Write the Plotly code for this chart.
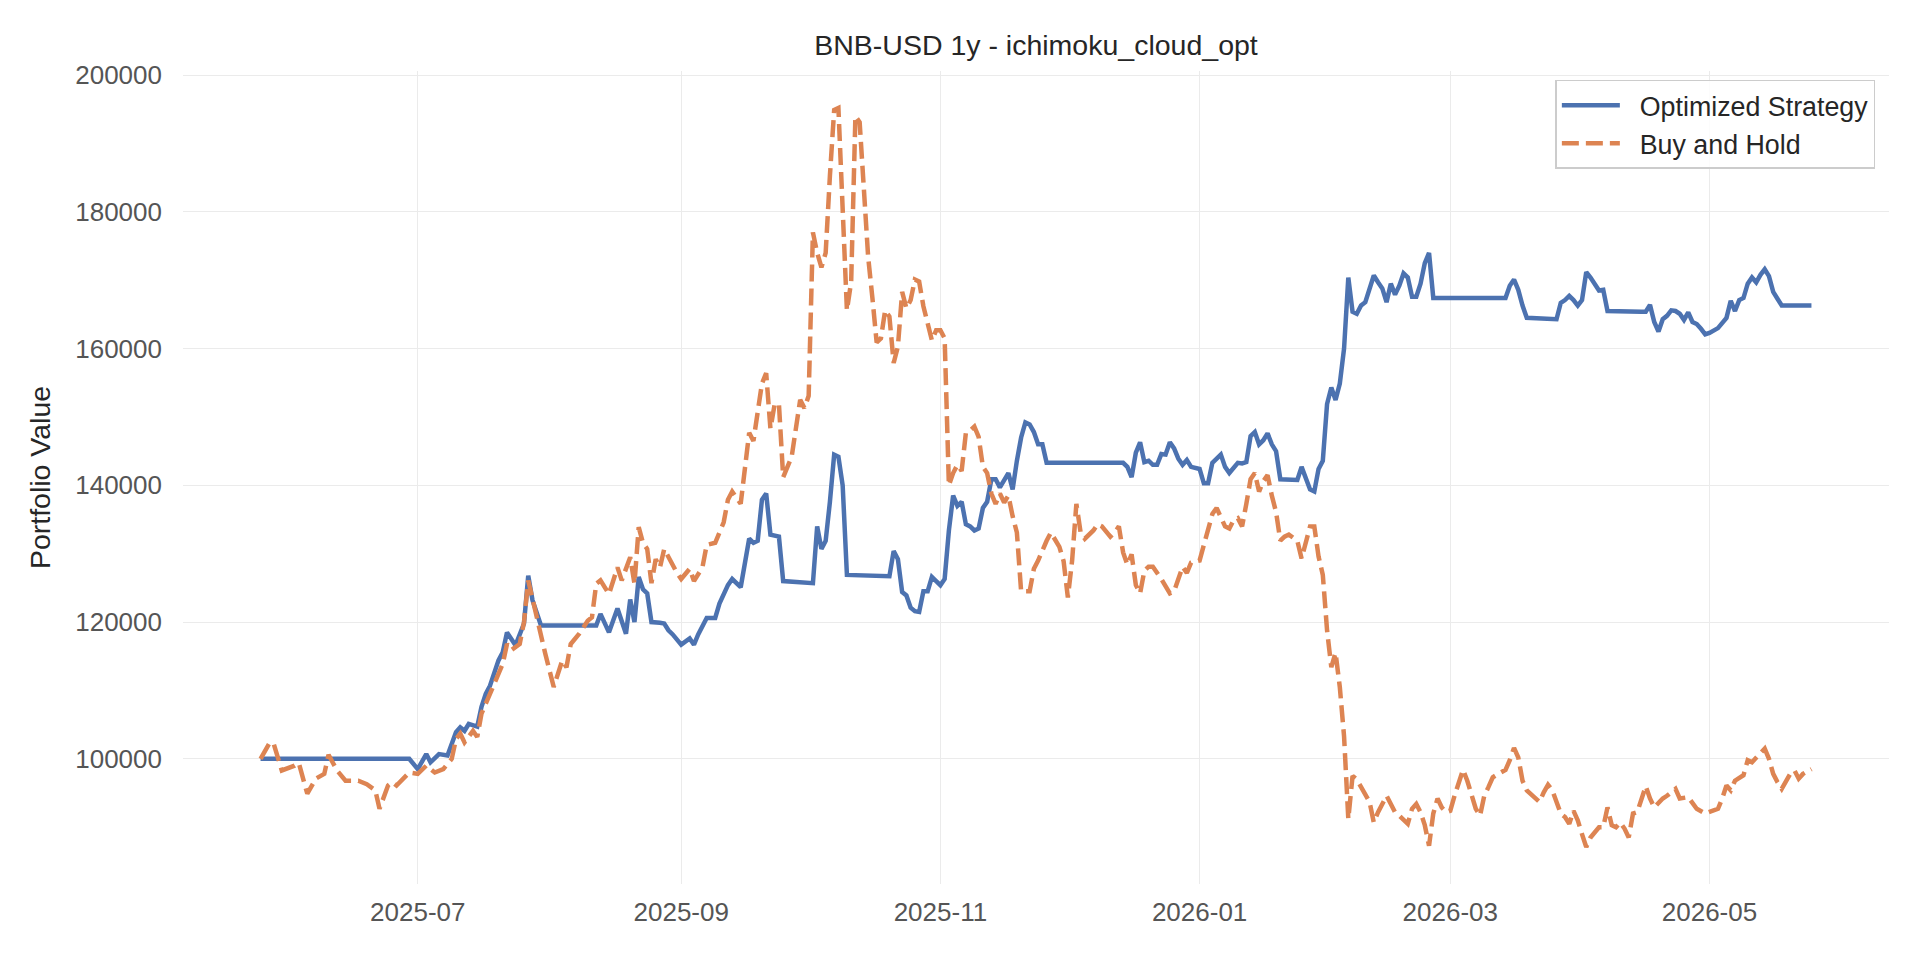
import numpy as np
import pandas as pd
import plotly.graph_objects as go

# backtest window: BNB-USD, 1 year of daily bars
start_date = "2025-05-25"

# Optimized strategy: (day since start, portfolio value in thousands)
strategy_day = [0, 35, 37, 39, 40, 42, 44, 46, 47, 48, 49, 51, 52, 53, 54, 56, 57, 58, 60, 61,
                62, 63, 64, 66, 79, 80, 82, 84, 86, 87, 88, 89, 90, 91, 92, 94, 95, 96, 97, 99,
                101, 102, 103, 105, 107, 108, 110, 111, 113, 115, 116, 117, 118, 119, 120, 122, 123, 130, 131, 132,
                133, 134, 135, 136, 137, 138, 148, 149, 150, 151, 152, 153, 154, 155, 156, 157, 158, 159, 160, 161,
                162, 163, 164, 165, 166, 167, 168, 169, 170, 171, 172, 173, 174, 176, 177, 178, 179, 180, 181, 182,
                183, 184, 185, 203, 204, 205, 206, 207, 208, 209, 210, 211, 212, 213, 214, 215, 216, 217, 218, 219,
                220, 221, 222, 223, 224, 226, 227, 228, 230, 231, 232, 233, 234, 235, 236, 237, 238, 239, 240, 244,
                245, 246, 247, 248, 249, 250, 251, 252, 253, 254, 255, 256, 257, 258, 259, 260, 261, 262, 263, 264,
                265, 266, 267, 268, 269, 270, 271, 272, 273, 274, 275, 276, 293, 294, 295, 296, 297, 298, 305, 306,
                307, 308, 309, 310, 311, 312, 313, 314, 315, 316, 317, 325, 326, 327, 328, 329, 330, 331, 332, 333,
                334, 335, 336, 337, 338, 339, 340, 341, 342, 343, 345, 346, 347, 348, 349, 350, 351, 352, 353, 354,
                355, 356, 357, 358, 365]
strategy_k = [100.0, 100.0, 98.5, 100.7, 99.5, 100.7, 100.5, 103.9, 104.6, 104.1, 105.1, 104.7, 107.6, 109.5, 110.7, 114.4, 115.6, 118.5, 116.6, 118.3,
              119.8, 126.8, 123.2, 119.5, 119.5, 121.2, 118.5, 122.0, 118.3, 123.3, 120.0, 126.6, 124.8, 124.2, 120.0, 119.9, 119.8, 118.8, 118.2, 116.7,
              117.6, 116.7, 118.2, 120.6, 120.6, 122.7, 125.4, 126.3, 125.1, 132.2, 131.6, 131.9, 137.9, 138.8, 132.8, 132.5, 126.0, 125.7, 134.0, 130.7,
              131.9, 137.6, 144.5, 144.2, 140.0, 126.9, 126.7, 130.4, 129.2, 124.4, 123.9, 122.1, 121.6, 121.5, 124.5, 124.5, 126.6, 126.0, 125.4, 126.3,
              133.4, 138.5, 137.0, 137.6, 134.3, 134.0, 133.4, 133.7, 136.7, 137.6, 140.9, 140.9, 139.7, 141.8, 139.4, 143.6, 147.0, 149.2, 148.9, 147.8,
              146.0, 146.0, 143.3, 143.3, 142.7, 141.2, 144.8, 146.3, 143.4, 143.6, 143.0, 143.0, 144.6, 144.5, 146.3, 145.4, 143.9, 143.0, 143.7, 142.7,
              142.5, 142.4, 140.3, 140.3, 143.3, 144.5, 142.7, 141.8, 143.3, 143.2, 143.4, 147.2, 147.8, 146.0, 146.6, 147.6, 146.0, 145.0, 140.9, 140.8,
              142.7, 141.2, 139.4, 139.1, 142.4, 143.6, 151.9, 154.3, 152.5, 154.9, 160.0, 170.4, 165.4, 165.1, 166.3, 166.8, 168.9, 170.7, 169.7, 168.8,
              166.8, 169.5, 167.9, 169.2, 171.0, 170.4, 167.6, 167.6, 169.5, 172.5, 174.0, 167.4, 167.4, 169.2, 170.1, 168.6, 166.3, 164.5, 164.3, 166.7,
              167.1, 167.7, 167.1, 166.3, 167.1, 171.2, 170.4, 169.5, 168.5, 168.6, 165.5, 165.4, 165.4, 166.4, 163.9, 162.5, 164.3, 164.8, 165.6, 165.5,
              165.1, 164.2, 165.3, 163.9, 163.6, 162.9, 162.1, 162.3, 162.7, 163.0, 164.5, 167.0, 165.5, 167.1, 167.4, 169.5, 170.4, 169.7, 170.8, 171.6,
              170.6, 168.3, 167.3, 166.3, 166.3]

# Buy and hold: (day since start, portfolio value in thousands)
hold_day = [0, 2, 3, 5, 8, 9, 11, 13, 15, 16, 18, 20, 23, 25, 27, 28, 30, 31, 32, 35,
            37, 39, 41, 43, 45, 46, 47, 48, 50, 51, 52, 54, 55, 57, 58, 59, 61, 62, 63, 65,
            67, 69, 71, 72, 73, 75, 77, 78, 79, 80, 82, 84, 85, 87, 88, 89, 90, 91, 92, 93,
            94, 95, 96, 98, 99, 101, 102, 104, 105, 107, 109, 110, 111, 113, 115, 116, 118, 119, 120, 121,
            122, 123, 125, 127, 128, 129, 130, 131, 132, 133, 134, 135, 136, 137, 138, 139, 140, 141, 142, 143,
            144, 145, 146, 147, 148, 149, 150, 151, 152, 153, 154, 155, 156, 157, 158, 159, 160, 161, 162, 163,
            164, 165, 166, 167, 168, 169, 170, 171, 172, 173, 174, 175, 176, 177, 178, 179, 181, 182, 183, 185,
            186, 188, 189, 190, 191, 192, 193, 194, 196, 197, 198, 200, 201, 202, 203, 204, 205, 206, 207, 208,
            209, 210, 212, 214, 215, 216, 217, 218, 219, 221, 222, 223, 224, 225, 226, 227, 228, 229, 230, 231,
            232, 233, 234, 235, 236, 237, 238, 239, 240, 241, 242, 244, 245, 246, 247, 248, 249, 250, 251, 252,
            253, 254, 255, 256, 257, 258, 259, 261, 262, 263, 265, 266, 267, 268, 270, 271, 272, 273, 274, 275,
            276, 277, 278, 279, 280, 281, 282, 283, 284, 285, 286, 287, 288, 289, 290, 291, 292, 293, 294, 295,
            296, 297, 298, 300, 301, 302, 303, 304, 306, 307, 308, 309, 310, 311, 312, 313, 315, 316, 317, 318,
            319, 320, 321, 322, 323, 324, 325, 326, 327, 328, 330, 331, 333, 334, 336, 337, 338, 340, 341, 343,
            344, 345, 346, 347, 349, 350, 351, 353, 354, 355, 356, 357, 358, 360, 361, 362, 363, 365]
hold_k = [100.0, 102.2, 102.4, 98.3, 99.0, 99.4, 94.9, 97.1, 97.8, 100.6, 98.3, 96.8, 96.8, 96.3, 95.4, 92.7, 96.1, 96.6, 96.1, 98.0,
          97.8, 99.0, 98.0, 98.5, 100.0, 102.9, 103.7, 102.4, 104.1, 103.2, 106.6, 109.5, 111.0, 113.9, 116.8, 115.9, 116.8, 120.0, 126.1, 120.6,
          115.4, 110.5, 114.4, 113.4, 116.8, 118.3, 120.2, 120.7, 125.6, 126.1, 124.1, 128.0, 126.1, 129.5, 125.6, 133.9, 131.6, 130.7, 125.7, 129.2,
          128.0, 130.7, 129.5, 127.2, 126.3, 127.8, 126.0, 128.0, 131.3, 131.6, 134.6, 137.9, 139.1, 137.3, 147.7, 146.5, 154.9, 156.4, 148.3, 151.9,
          151.9, 141.2, 144.2, 152.5, 151.3, 153.1, 177.0, 174.0, 171.9, 174.0, 185.3, 194.9, 195.2, 179.4, 165.6, 169.8, 194.0, 193.1, 184.1, 173.4,
          167.4, 160.9, 161.5, 165.6, 164.7, 157.9, 160.3, 168.3, 165.9, 167.1, 170.1, 169.8, 166.2, 163.9, 161.2, 162.7, 162.7, 161.5, 140.0, 141.8,
          143.0, 142.1, 147.7, 148.0, 148.6, 147.1, 142.7, 141.8, 138.8, 137.3, 138.8, 137.5, 138.5, 135.5, 133.1, 124.5, 124.5, 127.8, 129.0, 131.9,
          133.1, 131.0, 128.9, 123.6, 129.0, 137.3, 133.1, 132.2, 133.4, 134.3, 134.0, 132.5, 133.1, 134.0, 130.2, 128.4, 129.9, 125.4, 124.2, 127.5,
          128.1, 128.1, 126.3, 124.2, 124.5, 126.3, 128.1, 127.2, 128.7, 129.0, 131.3, 133.4, 135.8, 136.7, 135.5, 134.0, 133.7, 134.9, 135.2, 134.0,
          137.3, 140.9, 141.8, 139.1, 140.6, 141.5, 138.5, 136.1, 131.9, 132.5, 132.8, 131.9, 129.3, 131.9, 134.0, 134.0, 129.6, 126.9, 118.8, 113.4,
          115.5, 110.5, 103.3, 91.2, 97.5, 97.0, 95.9, 93.7, 90.7, 92.2, 94.6, 93.4, 92.2, 91.7, 90.5, 92.7, 93.4, 92.2, 90.3, 87.3,
          92.0, 94.2, 92.9, 92.2, 92.4, 94.6, 96.3, 98.4, 96.8, 94.6, 92.7, 91.7, 94.6, 95.9, 97.3, 97.7, 98.1, 98.4, 99.8, 101.6,
          100.2, 96.8, 95.4, 94.2, 93.7, 95.1, 96.2, 95.4, 92.0, 91.5, 90.5, 92.4, 91.0, 89.0, 87.1, 88.5, 90.0, 90.0, 92.9, 90.3,
          90.0, 90.7, 89.8, 88.5, 92.0, 92.2, 93.9, 96.0, 94.2, 92.9, 94.2, 94.6, 95.6, 94.2, 94.4, 93.4, 92.7, 92.0, 92.2, 92.7,
          94.2, 96.1, 95.4, 96.8, 97.6, 99.8, 99.5, 100.7, 101.5, 100.0, 97.8, 96.6, 95.6, 97.8, 98.3, 97.1, 97.8, 98.5]

y_ticks = [100000, 120000, 140000, 160000, 180000, 200000]

base = pd.Timestamp(start_date)
strategy_dates = base + pd.to_timedelta(strategy_day, unit="D")
hold_dates = base + pd.to_timedelta(hold_day, unit="D")
strategy_vals = np.array(strategy_k) * 1000
hold_vals = np.array(hold_k) * 1000

# matplotlib-like 5% padding around the data
span = hold_dates[-1] - hold_dates[0]
x_range = [hold_dates[0] - span * 0.05, hold_dates[-1] + span * 0.05]
all_vals = np.concatenate([strategy_vals, hold_vals])
pad = (all_vals.max() - all_vals.min()) * 0.05
y_range = [all_vals.min() - pad, all_vals.max() + pad]

FONT = "Liberation Sans, Arial, sans-serif"
GAP = "\u00a0\u00a0"  # a bit more room between legend line and label

fig = go.Figure()
fig.add_trace(go.Scatter(x=strategy_dates, y=strategy_vals, mode="lines",
                         name=GAP + "Optimized Strategy",
                         line=dict(color="#4c72b0", width=4.5)))
fig.add_trace(go.Scatter(x=hold_dates, y=hold_vals, mode="lines",
                         name=GAP + "Buy and Hold",
                         line=dict(color="#dd8452", width=4.5, dash="17px,7px")))

fig.update_layout(
    width=1920, height=960,
    margin=dict(l=175, r=39, t=63, b=84),
    paper_bgcolor="white", plot_bgcolor="white",
    font=dict(family=FONT, color="#262626"),
    title=dict(text="BNB-USD 1y - ichimoku_cloud_opt",
               x=0.5, xref="paper", xanchor="center",
               y=0.961, yanchor="middle",
               font=dict(size=28.5, color="#262626")),
    legend=dict(x=0.992, y=0.989, xanchor="right", yanchor="top",
                bgcolor="rgba(255,255,255,0.85)", bordercolor="#cccccc", borderwidth=1.5,
                font=dict(size=26.8, color="#262626"),
                itemwidth=58, tracegroupgap=4),
    showlegend=True,
)
fig.update_xaxes(range=x_range, tickformat="%Y-%m", dtick="M2", tick0="2025-07-01",
                 showgrid=True, gridcolor="#ebebeb", gridwidth=1,
                 showline=False, zeroline=False, ticks="",
                 tickfont=dict(size=26, color="#555555"), ticklabelstandoff=10)
fig.update_yaxes(range=y_range, tickvals=y_ticks, tickformat="d",
                 showgrid=True, gridcolor="#ebebeb", gridwidth=1,
                 showline=False, zeroline=False, ticks="",
                 tickfont=dict(size=26, color="#555555"), ticklabelstandoff=20,
                 title=dict(text="Portfolio Value", font=dict(size=28.5, color="#262626"),
                            standoff=16))

fig.write_html("out.html")
